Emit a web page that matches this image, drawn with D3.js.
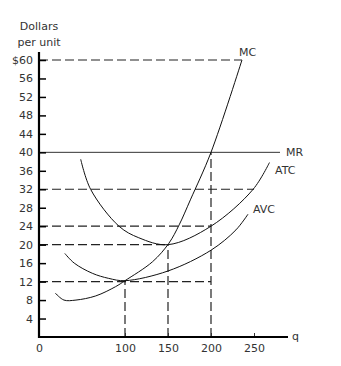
<!DOCTYPE html>
<html>
<head>
<meta charset="utf-8">
<script src="https://cdn.jsdelivr.net/npm/d3@7"></script>
<style>
  body { margin: 0; background: #fff; }
  text { font-family: "DejaVu Sans", sans-serif; font-size: 11px; fill: #333; }
</style>
</head>
<body>
<div id="chart"></div>
<script>
// curves: [quantity, dollars]
var mc = [[19, 9.5], [29, 8.0], [43, 8.0], [66, 8.9], [89, 10.9], [100, 12.2], [132, 16.3], [151, 20.3], [163, 24.3], [176, 29.7], [200, 40], [236, 60]];
var atc = [[48.5, 38.5], [60, 32], [93, 24], [116, 21.5], [150, 20], [200, 24], [249, 32], [268, 37.8]];
var avc = [[30, 18.1], [41, 16], [62, 13.8], [81, 12.7], [100, 12.2], [150, 14.3], [200, 18.8], [229, 23.2], [243, 26.6]];
var mr = 40;

var yTicks = [4, 8, 12, 16, 20, 24, 28, 32, 36, 40, 44, 48, 52, 56, 60];
var xTicks = [0, 100, 150, 200, 250];

// dashed guides: horizontal ones run from the axis to q, vertical ones from the axis up to v
var hGuides = [{ v: 60, q: 236 }, { v: 32, q: 250 }, { v: 24, q: 200 }, { v: 20, q: 150 }, { v: 12, q: 200 }];
var vGuides = [{ q: 100, v: 12 }, { q: 150, v: 20 }, { q: 200, v: 40 }];

var width = 341, height = 366;

var svg = d3.select('#chart')
    .append('svg')
    .attr('width', width)
    .attr('height', height);

var x = d3.scaleLinear()
    .domain([0, 250])
    .range([39, 254]);

var y = d3.scaleLinear()
    .domain([0, 60])
    .range([337, 60]);

// guides
svg.selectAll('.hg')
    .data(hGuides)
    .enter()
    .append('line')
    .attr('x1', x(0))
    .attr('x2', function (d) { return x(d.q); })
    .attr('y1', function (d) { return y(d.v); })
    .attr('y2', function (d) { return y(d.v); })
    .attr('stroke', '#222')
    .attr('stroke-width', 1.2)
    .attr('stroke-dasharray', '9,4');

svg.selectAll('.vg')
    .data(vGuides)
    .enter()
    .append('line')
    .attr('x1', function (d) { return x(d.q); })
    .attr('x2', function (d) { return x(d.q); })
    .attr('y1', y(0))
    .attr('y2', function (d) { return y(d.v); })
    .attr('stroke', '#222')
    .attr('stroke-width', 1.2)
    .attr('stroke-dasharray', '9,4');

// MR
svg.append('line')
    .attr('x1', x(0))
    .attr('x2', 280)
    .attr('y1', y(mr))
    .attr('y2', y(mr))
    .attr('stroke', '#333')
    .attr('stroke-width', 1);

var line = d3.line()
    .x(function (d) { return x(d[0]); })
    .y(function (d) { return y(d[1]); })
    .curve(d3.curveCatmullRom.alpha(0.5));

[mc, atc, avc].forEach(function (c) {
    svg.append('path')
        .attr('d', line(c))
        .attr('fill', 'none')
        .attr('stroke', '#111')
        .attr('stroke-width', 1);
});

// axes
var yAxis = d3.axisLeft(y)
    .tickValues(yTicks)
    .tickSizeInner(-7)
    .tickSizeOuter(0)
    .tickPadding(6)
    .tickFormat(function (d) { return d === 60 ? '$60' : d; });

var ya = svg.append('g')
    .attr('transform', 'translate(' + x(0) + ',0)')
    .call(yAxis);
ya.select('.domain').remove();
ya.selectAll('line').attr('stroke', '#000').attr('stroke-width', 1.5);
ya.selectAll('text').style('font-family', '"DejaVu Sans", sans-serif').style('font-size', '11px').attr('fill', '#333');

var xAxis = d3.axisBottom(x)
    .tickValues(xTicks)
    .tickSizeInner(-4)
    .tickSizeOuter(0)
    .tickPadding(7);

var xa = svg.append('g')
    .attr('transform', 'translate(0,' + y(0) + ')')
    .call(xAxis);
xa.select('.domain').remove();
xa.selectAll('line').attr('stroke', '#333').attr('stroke-width', 1);
xa.selectAll('text').style('font-family', '"DejaVu Sans", sans-serif').style('font-size', '11px').attr('fill', '#333');

svg.append('line')
    .attr('x1', x(0)).attr('x2', 288)
    .attr('y1', y(0)).attr('y2', y(0))
    .attr('stroke', '#000').attr('stroke-width', 2.2);

svg.append('line')
    .attr('x1', x(0)).attr('x2', x(0))
    .attr('y1', 52).attr('y2', y(0) + 1)
    .attr('stroke', '#000').attr('stroke-width', 2.2);

// titles and curve labels
svg.append('text').attr('x', 39).attr('y', 30).attr('text-anchor', 'middle').text('Dollars');
svg.append('text').attr('x', 39).attr('y', 46).attr('text-anchor', 'middle').text('per unit');
svg.append('text').attr('x', 292).attr('y', 340).text('q');

svg.append('text').attr('x', 239).attr('y', 56).text('MC');
svg.append('text').attr('x', 286).attr('y', y(mr) + 4).text('MR');
svg.append('text').attr('x', 275).attr('y', 174).text('ATC');
svg.append('text').attr('x', 253).attr('y', 213).text('AVC');
</script>
</body>
</html>
